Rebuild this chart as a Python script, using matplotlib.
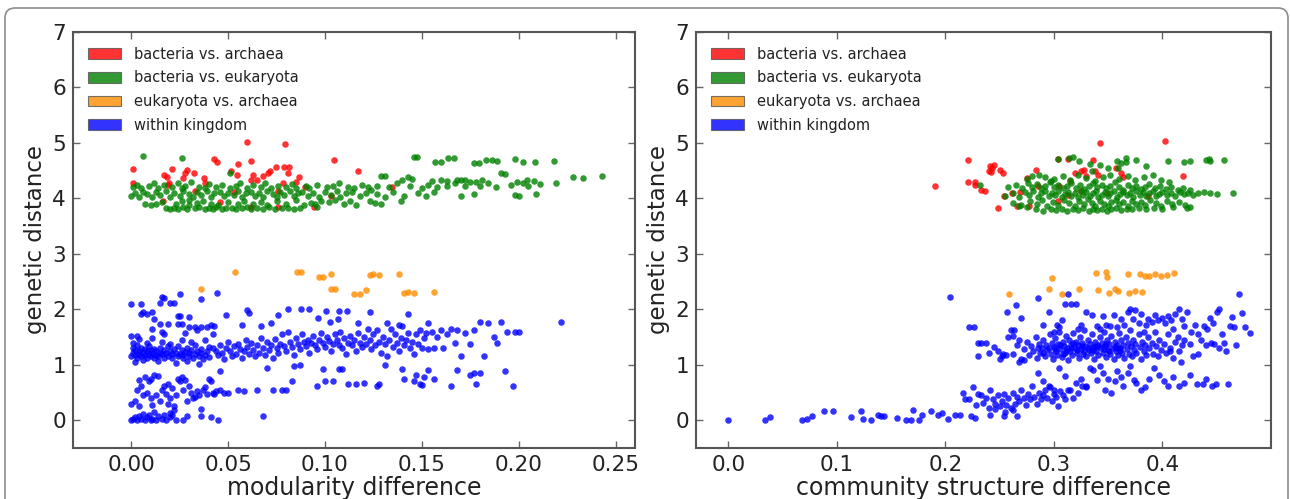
import matplotlib
matplotlib.use('Agg')
import matplotlib.pyplot as plt
from matplotlib.patches import Patch, FancyBboxPatch
from matplotlib.transforms import IdentityTransform

plt.rcParams['font.family'] = ['DejaVu Sans']

labels = ['bacteria vs. archaea', 'bacteria vs. eukaryota',
          'eukaryota vs. archaea', 'within kingdom']
colors = ['#ff0000', '#008000', '#ff8c00', '#0000ff']

# ---- left panel: modularity difference vs genetic distance ----
left_ba = [(0.001,4.53),(0.001,4.27),(0.0596,5.01),(0.0794,4.98),(0.0428,4.71),(0.0442,4.66),
           (0.0617,4.68),(0.055,4.62),(0.1046,4.69),(0.0746,4.57),(0.079,4.57),(0.0814,4.57),
           (0.0716,4.50),(0.0708,4.45),(0.081,4.46),(0.1168,4.50),(0.0213,4.53),(0.0286,4.52),
           (0.028,4.45),(0.027,4.37),(0.0326,4.45),(0.0514,4.50),(0.0545,4.42),(0.0376,4.36),
           (0.038,4.27),(0.017,4.42),(0.0184,4.39),(0.0193,4.27),(0.063,4.42),(0.0617,4.33),
           (0.0648,4.33),(0.0679,4.41),(0.0868,4.39),(0.0849,4.30),(0.0189,4.24),(0.0785,4.27),
           (0.0897,4.20),(0.0533,4.11),(0.076,4.13),(0.0459,3.94),(0.0163,3.96),(0.0943,3.85),
           (0.0756,3.85),(0.062,3.85),(0.1344,4.21),(0.103,4.04),(0.033,4.13)]

left_be = [(0.018,3.82),(0.020,3.80),(0.022,3.83),(0.024,3.81),(0.027,3.84),(0.029,3.80),(0.033,3.82),
           (0.035,3.85),(0.038,3.80),(0.040,3.83),(0.042,3.81),(0.044,3.84),(0.047,3.80),(0.049,3.82),
           (0.052,3.83),(0.054,3.80),(0.057,3.82),(0.060,3.84),(0.062,3.80),(0.065,3.83),(0.068,3.81),
           (0.071,3.84),(0.074,3.80),(0.078,3.82),(0.081,3.83),(0.084,3.81),(0.087,3.83),(0.096,3.85),
           (0.007,3.90),(0.010,3.88),(0.013,3.90),(0.016,3.93),(0.023,3.90),(0.026,3.95),(0.030,3.88),
           (0.034,3.92),(0.037,3.96),(0.041,3.90),(0.045,3.88),(0.050,3.94),(0.055,3.89),(0.058,3.96),
           (0.063,3.90),(0.067,3.93),(0.070,3.88),(0.075,3.95),(0.080,3.90),(0.085,3.97),(0.089,3.88),
           (0.093,3.92),(0.095,3.89),(0.098,3.95),(0.102,3.93),(0.105,3.97),(0.110,3.90),(0.113,3.95),
           (0.116,3.88),(0.123,3.96),(0.126,3.92),(0.129,3.90),(0.139,3.95),(0.030,3.97),
           (0.000,4.05),(0.002,4.10),(0.004,4.02),(0.006,4.12),(0.008,4.08),(0.011,4.03),(0.013,4.12),
           (0.015,4.07),(0.018,4.14),(0.020,4.02),(0.022,4.10),(0.025,4.05),(0.027,4.13),(0.030,4.08),
           (0.032,4.02),(0.034,4.11),(0.036,4.06),(0.039,4.14),(0.041,4.03),(0.043,4.09),(0.046,4.12),
           (0.048,4.04),(0.050,4.10),(0.053,4.07),(0.055,4.14),(0.057,4.02),(0.059,4.09),(0.062,4.12),
           (0.064,4.05),(0.066,4.10),(0.068,4.03),(0.070,4.13),(0.073,4.08),(0.075,4.02),(0.077,4.11),
           (0.079,4.06),(0.082,4.14),(0.084,4.04),(0.086,4.09),(0.088,4.12),(0.091,4.05),(0.094,4.10),
           (0.097,4.03),(0.100,4.12),(0.103,4.06),(0.106,4.14),(0.108,4.02),(0.111,4.09),(0.114,4.12),
           (0.118,4.05),(0.121,4.10),(0.124,4.15),(0.127,4.08),(0.131,4.03),(0.135,4.12),(0.141,4.05),
           (0.148,4.10),(0.152,4.05),(0.156,4.12),(0.170,4.04),(0.177,4.08),(0.198,4.07),(0.200,4.05),
           (0.209,4.08),
           (0.001,4.20),(0.003,4.25),(0.005,4.18),(0.009,4.22),(0.012,4.28),(0.014,4.19),(0.017,4.24),
           (0.021,4.20),(0.024,4.27),(0.026,4.18),(0.028,4.23),(0.031,4.30),(0.035,4.21),(0.038,4.18),
           (0.040,4.26),(0.044,4.20),(0.047,4.24),(0.051,4.18),(0.054,4.22),(0.056,4.28),(0.060,4.19),
           (0.063,4.24),(0.067,4.20),(0.069,4.27),(0.072,4.18),(0.076,4.23),(0.080,4.20),(0.083,4.26),
           (0.085,4.18),(0.090,4.22),(0.092,4.18),(0.096,4.24),(0.101,4.20),(0.104,4.22),(0.107,4.27),
           (0.112,4.20),(0.115,4.18),(0.119,4.25),(0.122,4.20),(0.127,4.23),(0.133,4.20),(0.137,4.28),
           (0.144,4.22),(0.150,4.19),(0.153,4.25),(0.158,4.20),(0.163,4.22),(0.167,4.28),(0.172,4.22),
           (0.175,4.30),(0.180,4.22),(0.184,4.27),(0.188,4.20),(0.196,4.25),(0.202,4.28),(0.205,4.22),
           (0.211,4.26),(0.219,4.28),(0.199,4.30),
           (0.051,4.46),(0.129,4.41),(0.131,4.41),(0.140,4.33),(0.143,4.38),(0.145,4.35),(0.160,4.33),
           (0.163,4.32),(0.168,4.33),(0.170,4.34),(0.172,4.34),(0.178,4.30),(0.181,4.33),(0.191,4.45),
           (0.193,4.44),(0.204,4.34),(0.208,4.31),(0.228,4.38),(0.233,4.37),(0.243,4.40),(0.155,4.32),
           (0.006,4.76),(0.026,4.72),(0.146,4.75),(0.1475,4.75),(0.157,4.65),(0.160,4.66),(0.1635,4.72),
           (0.1667,4.72),(0.177,4.64),(0.1796,4.64),(0.183,4.70),(0.186,4.69),(0.189,4.68),(0.198,4.71),
           (0.202,4.65),(0.2085,4.66),(0.218,4.68)]

left_ea = [(0.0535,2.67),(0.036,2.37),(0.0854,2.67),(0.0875,2.67),(0.097,2.58),(0.099,2.58),
           (0.103,2.64),(0.103,2.37),(0.105,2.37),(0.115,2.28),(0.118,2.28),(0.121,2.34),
           (0.123,2.61),(0.125,2.63),(0.128,2.61),(0.138,2.63),(0.141,2.30),(0.143,2.32),
           (0.146,2.30),(0.156,2.32)]

left_wk = [(0.000,1.15),(0.001,1.22),(0.001,1.30),(0.002,1.18),(0.002,1.27),(0.003,1.12),(0.003,1.35),
           (0.004,1.20),(0.004,1.25),(0.005,1.15),(0.005,1.31),(0.006,1.22),(0.007,1.18),(0.007,1.28),
           (0.008,1.13),(0.008,1.24),(0.009,1.20),(0.009,1.33),(0.010,1.16),(0.010,1.26),(0.011,1.21),
           (0.012,1.12),(0.012,1.29),(0.013,1.18),(0.013,1.24),(0.014,1.15),(0.015,1.22),(0.015,1.31),
           (0.016,1.19),(0.017,1.13),(0.017,1.26),(0.018,1.21),(0.019,1.16),(0.019,1.34),(0.020,1.24),
           (0.021,1.12),(0.021,1.19),(0.022,1.28),(0.023,1.22),(0.024,1.15),(0.024,1.33),(0.025,1.20),
           (0.026,1.26),(0.027,1.13),(0.027,1.18),(0.028,1.23),(0.029,1.30),(0.030,1.16),(0.030,1.21),
           (0.031,1.27),(0.032,1.12),(0.033,1.19),(0.033,1.35),(0.034,1.24),(0.035,1.15),(0.036,1.21),
           (0.036,1.29),(0.037,1.10),(0.038,1.18),(0.039,1.25),(0.040,1.14),(0.040,1.32),(0.001,1.40),
           (0.004,1.46),(0.008,1.40),(0.011,1.48),(0.016,1.42),(0.020,1.38),(0.026,1.45),(0.031,1.41),
           (0.038,1.44),(0.002,1.05),(0.006,1.08),(0.014,1.06),(0.023,1.04),(0.029,1.07),(0.035,1.02),
           (0.000,2.10),(0.005,2.10),(0.016,2.23),(0.017,2.20),(0.015,2.12),(0.020,2.12),(0.022,2.12),
           (0.025,2.27),(0.036,2.19),(0.0445,2.30),(0.005,1.92),(0.006,1.95),(0.008,1.92),(0.011,1.95),
           (0.012,1.83),(0.024,1.88),(0.025,1.88),(0.030,1.86),(0.015,1.73),(0.019,1.73),(0.024,1.73),
           (0.026,1.73),(0.030,1.68),(0.033,1.68),(0.036,1.68),(0.039,1.68),(0.041,1.72),(0.043,1.70),
           (0.011,1.64),(0.000,1.52),(0.003,1.52),(0.016,1.60),(0.017,1.55),(0.028,1.58),(0.034,1.62),
           (0.042,1.55),
           (0.000,0.00),(0.001,0.02),(0.002,0.05),(0.003,0.00),(0.004,0.08),(0.005,0.02),(0.006,0.12),
           (0.007,0.00),(0.008,0.05),(0.009,0.10),(0.010,0.00),(0.011,0.03),(0.013,0.00),(0.014,0.07),
           (0.016,0.02),(0.018,0.00),(0.020,0.05),(0.021,0.10),(0.023,0.00),(0.027,0.01),(0.029,0.08),
           (0.036,0.08),(0.041,0.05),(0.045,0.00),(0.020,0.13),(0.017,0.10),
           (0.000,0.30),(0.002,0.35),(0.004,0.25),(0.006,0.45),(0.003,0.55),(0.005,0.62),(0.004,0.72),
           (0.007,0.78),(0.009,0.70),(0.010,0.75),(0.012,0.82),(0.014,0.80),(0.008,0.50),(0.010,0.40),
           (0.011,0.28),(0.013,0.45),(0.015,0.35),(0.016,0.55),(0.017,0.62),(0.018,0.48),(0.019,0.30),
           (0.020,0.40),(0.021,0.58),(0.022,0.25),(0.023,0.45),(0.024,0.75),(0.025,0.70),(0.026,0.78),
           (0.027,0.55),(0.028,0.72),(0.029,0.35),(0.030,0.62),(0.031,0.50),(0.032,0.40),(0.033,0.42),
           (0.034,0.52),(0.035,0.45),(0.036,0.20),(0.037,0.55),(0.038,0.60),(0.039,0.48),(0.040,0.75),
           (0.041,0.70),(0.042,0.50),(0.043,0.48),(0.044,0.52),(0.046,0.55),(0.048,0.50),(0.050,0.50),
           (0.046,0.88),(0.019,0.65),(0.012,0.15),(0.022,0.18),
           (0.042,1.30),(0.044,1.25),(0.045,1.18),(0.046,1.36),(0.047,1.22),(0.048,1.10),(0.049,1.30),
           (0.050,1.42),(0.051,1.25),(0.052,1.16),(0.053,1.33),(0.054,1.20),(0.055,1.38),(0.056,1.28),
           (0.057,1.12),(0.058,1.24),(0.059,1.45),(0.060,1.32),(0.061,1.20),(0.062,1.40),(0.063,1.26),
           (0.064,1.15),(0.065,1.35),(0.066,1.22),(0.067,1.48),(0.068,1.30),(0.069,1.18),(0.070,1.42),
           (0.071,1.27),(0.072,1.35),(0.073,1.12),(0.074,1.46),(0.075,1.30),(0.076,1.22),(0.077,1.38),
           (0.078,1.55),(0.079,1.34),(0.080,1.25),(0.081,1.60),(0.082,1.42),(0.083,1.32),(0.084,1.18),
           (0.085,1.48),(0.086,1.38),(0.087,1.28),(0.088,1.55),(0.089,1.42),(0.090,1.33),(0.091,1.45),
           (0.092,1.22),(0.093,1.40),(0.094,1.52),(0.095,1.35),(0.096,1.28),(0.097,1.45),(0.098,1.58),
           (0.099,1.40),(0.100,1.32),(0.101,1.50),(0.102,1.43),(0.103,1.25),(0.104,1.38),(0.105,1.55),
           (0.106,1.45),(0.107,1.35),(0.108,1.60),(0.109,1.30),(0.110,1.48),(0.111,1.20),(0.112,1.40),
           (0.113,1.52),(0.114,1.35),(0.115,1.45),(0.116,1.25),(0.117,1.58),(0.118,1.40),(0.119,1.32),
           (0.120,1.50),(0.121,1.38),(0.122,1.65),(0.123,1.45),(0.124,1.28),(0.125,1.55),(0.126,1.35),
           (0.127,1.62),(0.128,1.42),(0.129,1.22),(0.130,1.50),(0.131,1.38),(0.132,1.15),(0.133,1.45),
           (0.134,1.65),(0.135,1.32),(0.136,1.55),(0.137,1.40),(0.138,1.25),(0.139,1.48),(0.140,1.70),
           (0.141,1.35),(0.142,1.45),(0.143,1.58),(0.144,1.30),(0.145,1.42),(0.146,1.20),(0.147,1.55),
           (0.148,1.38),(0.149,1.62),(0.150,1.30),(0.151,1.48),(0.152,1.58),(0.153,1.28),(0.155,1.60),
           (0.156,1.30),(0.158,1.50),(0.160,1.62),(0.161,1.30),(0.163,1.55),(0.165,1.65),(0.167,1.40),
           (0.168,1.62),(0.170,1.15),(0.172,1.58),(0.175,1.38),(0.177,1.62),(0.180,1.78),(0.182,1.15),
           (0.184,1.75),(0.187,1.50),(0.191,1.78),(0.194,1.60),(0.198,1.60),(0.200,1.60),(0.222,1.78),
           (0.189,1.40),
           (0.049,1.90),(0.060,1.98),(0.061,1.94),(0.067,1.70),(0.076,1.89),(0.081,2.00),(0.0875,2.00),
           (0.092,2.00),(0.0966,1.84),(0.1005,1.97),(0.1026,1.77),(0.1069,1.82),(0.1074,1.97),
           (0.1115,1.97),(0.1232,1.95),(0.117,1.75),(0.132,1.75),(0.138,1.72),(0.143,1.92),(0.153,1.75),
           (0.057,1.72),(0.072,1.75),
           (0.055,0.55),(0.058,0.52),(0.065,0.55),(0.068,0.08),(0.070,0.95),(0.073,0.55),(0.078,0.55),
           (0.080,0.55),(0.083,0.70),(0.084,0.98),(0.096,0.62),(0.100,0.70),(0.104,0.70),(0.107,0.92),
           (0.109,0.92),(0.112,0.65),(0.116,0.65),(0.120,0.68),(0.127,0.62),(0.128,0.65),(0.140,0.92),
           (0.141,0.75),(0.146,0.70),(0.147,0.82),(0.149,0.65),(0.150,0.63),(0.151,0.78),(0.153,0.90),
           (0.156,0.75),(0.165,0.62),(0.168,0.90),(0.175,0.82),(0.177,0.85),(0.180,0.85),(0.193,0.88),
           (0.197,0.62),(0.178,0.65),(0.131,1.00),(0.087,1.00),(0.099,0.92)]

# ---- right panel: community structure difference vs genetic distance ----
right_ba = [(0.190,4.22),(0.221,4.69),(0.221,4.29),(0.227,4.29),(0.227,4.25),(0.233,4.16),(0.236,4.13),
            (0.241,4.58),(0.243,4.55),(0.245,4.61),(0.240,4.49),(0.242,4.47),(0.250,4.52),(0.253,4.46),
            (0.248,3.83),(0.254,4.04),(0.261,4.10),(0.266,3.86),(0.269,4.11),(0.275,4.37),(0.283,4.52),
            (0.277,3.86),(0.285,4.22),(0.304,4.71),(0.313,4.71),(0.304,3.95),(0.313,4.07),(0.319,4.46),
            (0.325,4.49),(0.328,4.52),(0.330,4.40),(0.336,4.70),(0.338,4.49),(0.341,4.43),(0.342,4.99),
            (0.325,4.13),(0.349,4.10),(0.357,4.55),(0.362,4.46),(0.364,4.39),(0.402,5.03),(0.419,4.41),
            (0.305,4.22),(0.315,4.31),(0.387,4.04)]

right_be = [(0.283,3.80),(0.290,3.78),(0.297,3.80),(0.302,3.79),(0.307,3.81),(0.312,3.78),(0.318,3.80),
            (0.322,3.79),(0.327,3.82),(0.332,3.78),(0.336,3.80),(0.340,3.79),(0.344,3.81),(0.349,3.78),
            (0.353,3.80),(0.357,3.82),(0.362,3.79),(0.367,3.81),(0.372,3.80),(0.378,3.82),(0.385,3.80),
            (0.392,3.83),(0.400,3.81),(0.410,3.85),(0.423,3.82),(0.425,3.85),(0.268,3.86),(0.275,3.84),
            (0.262,3.92),(0.270,3.88),(0.278,3.95),(0.284,3.90),(0.289,3.98),(0.294,3.87),(0.299,3.93),
            (0.304,3.88),(0.309,3.97),(0.314,3.91),(0.319,3.86),(0.323,3.95),(0.328,3.89),(0.331,3.99),
            (0.335,3.92),(0.338,3.86),(0.342,3.96),(0.346,3.90),(0.350,3.87),(0.353,3.94),(0.357,3.98),
            (0.360,3.89),(0.364,3.93),(0.368,3.86),(0.372,3.96),(0.376,3.90),(0.380,3.94),(0.384,3.88),
            (0.389,3.97),(0.394,3.91),(0.399,3.87),(0.404,3.95),(0.409,3.90),(0.415,3.93),(0.421,3.88),
            (0.255,4.05),(0.262,4.10),(0.268,4.02),(0.273,4.12),(0.277,4.06),(0.281,4.14),(0.285,4.03),
            (0.288,4.09),(0.292,4.13),(0.295,4.04),(0.298,4.10),(0.301,4.06),(0.304,4.14),(0.307,4.02),
            (0.310,4.08),(0.313,4.12),(0.316,4.05),(0.319,4.10),(0.322,4.03),(0.325,4.14),(0.327,4.07),
            (0.330,4.11),(0.333,4.04),(0.336,4.09),(0.339,4.13),(0.341,4.02),(0.344,4.07),(0.347,4.12),
            (0.350,4.05),(0.352,4.10),(0.355,4.14),(0.358,4.03),(0.361,4.08),(0.364,4.12),(0.367,4.06),
            (0.370,4.10),(0.373,4.03),(0.376,4.14),(0.379,4.07),(0.382,4.11),(0.385,4.05),(0.388,4.09),
            (0.391,4.13),(0.394,4.04),(0.397,4.08),(0.400,4.12),(0.404,4.06),(0.408,4.10),(0.412,4.05),
            (0.416,4.12),(0.420,4.08),(0.424,4.10),(0.428,4.06),(0.433,4.09),(0.438,4.12),(0.444,4.10),
            (0.450,4.08),(0.465,4.09),
            (0.232,4.25),(0.258,4.20),(0.265,4.24),(0.271,4.18),(0.276,4.28),(0.280,4.21),(0.284,4.26),
            (0.288,4.18),(0.292,4.23),(0.296,4.29),(0.300,4.20),(0.304,4.25),(0.308,4.18),(0.312,4.22),
            (0.316,4.28),(0.320,4.19),(0.324,4.24),(0.328,4.17),(0.332,4.22),(0.336,4.27),(0.340,4.20),
            (0.344,4.25),(0.348,4.18),(0.352,4.23),(0.356,4.29),(0.360,4.20),(0.364,4.16),(0.368,4.25),
            (0.372,4.19),(0.376,4.23),(0.380,4.17),(0.384,4.21),(0.388,4.26),(0.393,4.18),(0.398,4.22),
            (0.403,4.17),(0.408,4.20),(0.414,4.16),(0.419,4.19),(0.425,4.16),
            (0.275,4.35),(0.280,4.40),(0.286,4.42),(0.292,4.38),(0.300,4.35),(0.308,4.40),(0.315,4.33),
            (0.322,4.42),(0.330,4.36),(0.338,4.32),(0.345,4.38),(0.352,4.42),(0.360,4.35),(0.368,4.40),
            (0.375,4.33),(0.383,4.38),(0.391,4.42),(0.399,4.34),(0.406,4.30),(0.297,4.32),
            (0.304,4.71),(0.314,4.72),(0.318,4.74),(0.323,4.68),(0.333,4.62),(0.342,4.60),(0.350,4.55),
            (0.358,4.67),(0.362,4.64),(0.366,4.72),(0.366,4.66),(0.376,4.69),(0.385,4.59),(0.405,4.68),
            (0.420,4.66),(0.425,4.67),(0.440,4.69),(0.443,4.71),(0.444,4.68),(0.457,4.70),(0.335,4.49),
            (0.359,4.55)]

right_ea = [(0.2583,2.27),(0.298,2.57),(0.295,2.37),(0.307,2.28),(0.3235,2.36),(0.339,2.66),
            (0.348,2.67),(0.3485,2.58),(0.3407,2.34),(0.351,2.30),(0.356,2.37),(0.359,2.33),
            (0.368,2.63),(0.369,2.30),(0.3746,2.33),(0.381,2.31),(0.379,2.63),(0.3838,2.60),
            (0.388,2.60),(0.393,2.63),(0.399,2.60),(0.4045,2.61),(0.4106,2.66)]

right_wk = [(0.262,1.20),(0.266,1.35),(0.270,1.10),(0.272,1.28),(0.275,1.42),(0.277,1.18),(0.279,1.33),
            (0.281,1.25),(0.283,1.50),(0.284,1.12),(0.286,1.38),(0.287,1.22),(0.289,1.30),(0.290,1.45),
            (0.292,1.15),(0.293,1.35),(0.294,1.27),(0.296,1.55),(0.297,1.20),(0.298,1.40),(0.299,1.10),
            (0.300,1.32),(0.301,1.48),(0.302,1.25),(0.303,1.18),(0.304,1.38),(0.305,1.60),(0.306,1.28),
            (0.307,1.14),(0.308,1.42),(0.309,1.33),(0.310,1.22),(0.311,1.52),(0.312,1.30),(0.313,1.08),
            (0.314,1.45),(0.315,1.25),(0.316,1.36),(0.317,1.18),(0.318,1.58),(0.319,1.30),(0.320,1.42),
            (0.321,1.22),(0.322,1.35),(0.323,1.12),(0.324,1.50),(0.325,1.28),(0.326,1.40),(0.327,1.20),
            (0.328,1.62),(0.329,1.33),(0.330,1.15),(0.331,1.45),(0.332,1.27),(0.333,1.38),(0.334,1.22),
            (0.335,1.55),(0.336,1.32),(0.337,1.10),(0.338,1.42),(0.339,1.25),(0.340,1.36),(0.341,1.18),
            (0.342,1.50),(0.343,1.30),(0.344,1.40),(0.345,1.22),(0.346,1.60),(0.347,1.33),(0.348,1.14),
            (0.349,1.45),(0.350,1.27),(0.351,1.38),(0.352,1.20),(0.353,1.52),(0.354,1.31),(0.355,1.10),
            (0.356,1.42),(0.357,1.25),(0.358,1.36),(0.359,1.18),(0.360,1.58),(0.361,1.30),(0.362,1.45),
            (0.363,1.22),(0.364,1.35),(0.365,1.12),(0.366,1.50),(0.367,1.28),(0.368,1.40),(0.369,1.20),
            (0.370,1.62),(0.371,1.33),(0.372,1.15),(0.373,1.45),(0.374,1.27),(0.375,1.38),(0.376,1.22),
            (0.378,1.55),(0.379,1.32),(0.380,1.10),(0.381,1.42),(0.383,1.25),(0.384,1.36),(0.385,1.18),
            (0.387,1.50),(0.388,1.30),(0.390,1.40),(0.391,1.20),(0.393,1.60),(0.394,1.33),(0.396,1.15),
            (0.397,1.45),(0.399,1.27),(0.401,1.38),(0.403,1.22),(0.405,1.55),(0.407,1.30),(0.410,1.12),
            (0.412,1.42),(0.415,1.25),(0.418,1.36),
            (0.301,1.29),(0.306,1.35),(0.311,1.24),(0.316,1.30),(0.321,1.27),(0.326,1.33),(0.331,1.30),
            (0.336,1.26),(0.341,1.34),(0.346,1.29),(0.351,1.24),(0.356,1.32),(0.361,1.27),(0.308,1.20),
            (0.318,1.40),(0.328,1.24),(0.338,1.32),(0.348,1.37),(0.358,1.30),(0.295,1.30),(0.290,1.22),
            (0.285,1.30),
            (0.222,1.68),(0.226,1.68),(0.230,1.40),(0.233,1.40),(0.237,1.40),(0.230,1.15),(0.240,1.22),
            (0.245,1.32),(0.248,1.25),(0.252,1.15),(0.253,1.20),(0.256,1.18),(0.258,1.50),(0.260,1.62),
            (0.263,1.62),(0.257,1.95),(0.262,1.52),(0.268,1.05),(0.265,2.08),(0.270,1.85),(0.272,1.08),
            (0.268,1.45),(0.250,1.10),
            (0.285,2.20),(0.290,1.72),(0.295,1.95),(0.300,1.60),(0.303,1.72),(0.305,1.68),(0.307,1.80),
            (0.310,2.10),(0.313,2.27),(0.316,2.10),(0.320,2.10),(0.322,1.65),(0.325,1.72),(0.330,1.95),
            (0.335,1.90),(0.340,1.70),(0.342,1.65),(0.345,1.88),(0.348,1.72),(0.352,1.70),(0.355,1.90),
            (0.358,1.68),(0.362,1.82),(0.365,1.72),(0.368,1.95),(0.370,2.00),(0.373,1.82),(0.375,1.98),
            (0.378,1.75),(0.380,1.92),(0.383,1.60),(0.385,1.72),(0.387,1.82),(0.390,1.78),(0.393,1.90),
            (0.396,1.80),(0.400,1.85),(0.402,1.75),(0.405,1.88),(0.408,1.80),(0.410,1.65),(0.412,1.92),
            (0.415,2.00),(0.418,1.82),(0.420,1.70),(0.423,1.95),(0.426,1.60),(0.430,1.72),(0.433,1.55),
            (0.436,1.45),(0.438,1.70),(0.441,1.65),(0.444,1.85),(0.447,1.75),(0.450,1.95),(0.452,2.00),
            (0.455,1.55),(0.457,1.40),(0.459,1.25),(0.462,1.70),(0.464,1.87),(0.466,1.68),(0.468,1.35),
            (0.471,2.28),(0.473,1.93),(0.476,1.68),(0.481,1.58),(0.425,1.38),(0.440,1.35),(0.445,1.40),
            (0.448,1.38),(0.452,1.30),(0.420,1.45),(0.417,1.05),(0.414,1.50),(0.407,1.25),(0.433,1.20),
            (0.428,1.15),
            (0.285,0.85),(0.290,0.70),(0.295,0.62),(0.300,0.55),(0.305,0.95),(0.310,0.80),(0.315,0.55),
            (0.320,0.68),(0.325,0.75),(0.330,0.62),(0.333,0.95),(0.336,0.90),(0.340,0.72),(0.342,0.98),
            (0.345,0.85),(0.347,0.55),(0.350,0.75),(0.353,0.50),(0.356,0.70),(0.358,0.88),(0.362,0.78),
            (0.364,0.62),(0.368,0.85),(0.370,0.98),(0.374,0.72),(0.376,0.68),(0.380,0.55),(0.384,0.60),
            (0.388,0.75),(0.392,0.95),(0.397,0.82),(0.401,0.70),(0.405,0.62),(0.410,0.78),(0.415,0.62),
            (0.420,0.68),(0.425,0.82),(0.432,0.65),(0.437,0.65),(0.440,0.75),(0.446,0.62),(0.449,0.65),
            (0.460,0.66),
            (0.216,0.50),(0.218,0.38),(0.222,0.38),(0.225,0.60),(0.228,0.28),(0.230,0.48),(0.233,0.45),
            (0.235,0.32),(0.237,0.40),(0.240,0.22),(0.241,0.55),(0.244,0.38),(0.246,0.30),(0.248,0.45),
            (0.250,0.25),(0.252,0.35),(0.254,0.48),(0.256,0.28),(0.258,0.40),(0.260,0.22),(0.262,0.50),
            (0.264,0.30),(0.266,0.42),(0.268,0.35),(0.270,0.55),(0.272,0.40),(0.274,0.28),(0.276,0.48),
            (0.278,0.38),(0.280,0.62),(0.282,0.42),(0.284,0.30),(0.286,0.50),(0.288,0.38),(0.290,0.45),
            (0.292,0.55),(0.294,0.40),(0.296,0.60),(0.298,0.35),(0.300,0.48),(0.302,0.42),(0.304,0.25),
            (0.306,0.52),(0.308,0.45),(0.310,0.38),(0.313,0.55),(0.318,0.40),(0.322,0.50),(0.326,0.62),
            (0.330,0.60),(0.246,0.20),(0.255,0.15),(0.262,0.18),
            (0.000,0.00),(0.0336,0.00),(0.038,0.05),(0.068,0.00),(0.072,0.02),(0.077,0.07),(0.088,0.17),
            (0.0966,0.16),(0.113,0.05),(0.122,0.16),(0.124,0.02),(0.131,0.00),(0.138,0.10),(0.141,0.07),
            (0.143,0.08),(0.155,0.04),(0.164,0.00),(0.168,0.00),(0.170,0.19),(0.176,0.00),(0.178,0.09),
            (0.1865,0.17),(0.193,0.10),(0.1966,0.13),(0.2027,0.02),(0.204,2.22),(0.209,0.10),(0.213,0.10),
            (0.224,0.08),(0.227,0.04),(0.241,0.10),(0.254,0.08),(0.2655,0.08)]

panels = [
    (left_ba, left_be, left_ea, left_wk, (-0.03, 0.26),
     [0.0, 0.05, 0.10, 0.15, 0.20, 0.25], '%.2f', 'modularity difference'),
    (right_ba, right_be, right_ea, right_wk, (-0.03, 0.5),
     [0.0, 0.1, 0.2, 0.3, 0.4], '%.1f', 'community structure difference'),
]

fig = plt.figure(figsize=(12.9, 4.99), dpi=100)
axes = [fig.add_axes([0.0566, 0.1022, 0.4357, 0.8337]),
        fig.add_axes([0.5395, 0.1022, 0.4457, 0.8337])]

for ax, (ba, be, ea, wk, xlim, xt, fmt, xlabel) in zip(axes, panels):
    for pts, col in zip([ba, be, ea, wk], colors):
        xs, ys = zip(*pts)
        ax.scatter(xs, ys, s=22, c=col, alpha=0.8, linewidths=0, zorder=2)
    ax.set_xlim(*xlim)
    ax.set_ylim(-0.5, 7)
    ax.set_xticks(xt)
    ax.set_xticklabels([fmt % v for v in xt])
    ax.set_yticks(range(8))
    ax.tick_params(direction='in', top=True, right=True, length=5, width=1,
                   color='#666666', labelsize=15.5, labelcolor='#222222', pad=5)
    for sp in ax.spines.values():
        sp.set_color('#555555')
        sp.set_linewidth(1.5)
    ax.set_xlabel(xlabel, fontsize=17, color='#222222', labelpad=1)
    ax.set_ylabel('genetic distance', fontsize=16.5, color='#222222', labelpad=4)
    handles = [Patch(facecolor=c, alpha=0.8, edgecolor='#555555', linewidth=0.8) for c in colors]
    ax.legend(handles, labels, loc='upper left', frameon=False, fontsize=10.5,
              handlelength=2.3, handleheight=0.75, labelspacing=0.6,
              handletextpad=0.9, borderaxespad=0.6, labelcolor='#222222')

# rounded card border around the figure
border = FancyBboxPatch((5, -40), 1283, 531, boxstyle='round,pad=0,rounding_size=10',
                        transform=IdentityTransform(), facecolor='none',
                        edgecolor='#8c8c8c', linewidth=1.2)
fig.patches.append(border)

fig.savefig('out.png', dpi=100)
